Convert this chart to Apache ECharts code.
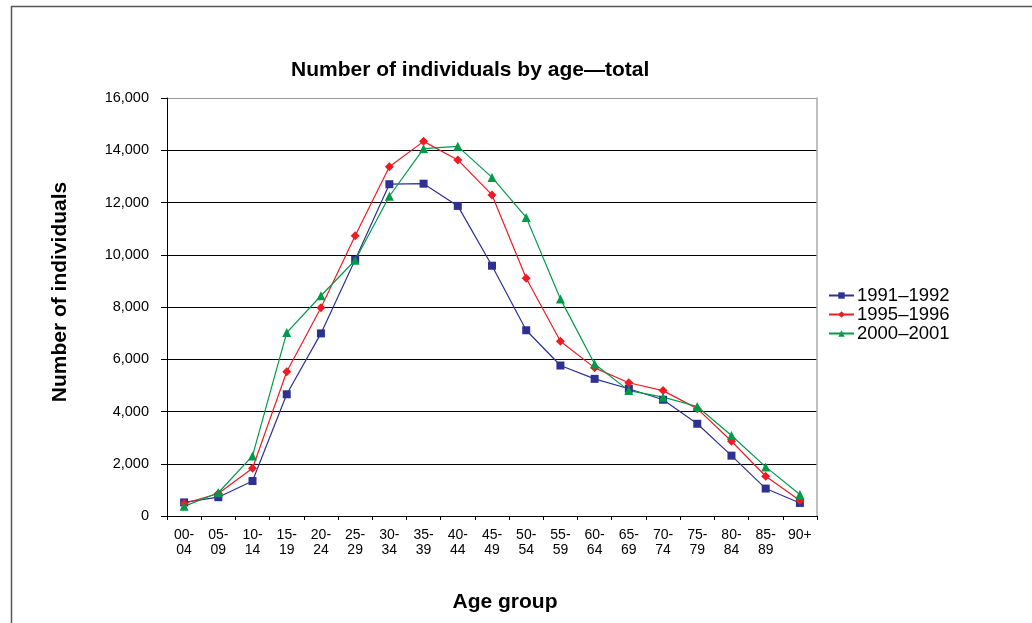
<!DOCTYPE html>
<html>
<head>
<meta charset="utf-8">
<script src="https://cdn.jsdelivr.net/npm/echarts@6/dist/echarts.min.js"></script>
<style>html,body{margin:0;padding:0;background:#fff}#c{width:1032px;height:623px}</style>
</head>
<body>
<div id="c"></div>
<script>
const categories = ['00-\n04','05-\n09','10-\n14','15-\n19','20-\n24','25-\n29','30-\n34','35-\n39','40-\n44','45-\n49','50-\n54','55-\n59','60-\n64','65-\n69','70-\n74','75-\n79','80-\n84','85-\n89','90+'];
const s1991 = [520, 720, 1340, 4660, 6990, 9810, 12700, 12720, 11870, 9580, 7110, 5760, 5250, 4870, 4450, 3530, 2310, 1050, 500];
const s1995 = [480, 860, 1830, 5520, 7970, 10730, 13370, 14340, 13630, 12290, 9100, 6690, 5670, 5100, 4800, 4110, 2860, 1520, 590];
const s2000 = [370, 890, 2300, 7020, 8430, 9790, 12240, 14060, 14150, 12960, 11430, 8310, 5820, 4800, 4550, 4190, 3080, 1880, 820];
const seriesNames = ['1991\u20131992', '1995\u20131996', '2000\u20132001'];
const yTicks = [0, 2000, 4000, 6000, 8000, 10000, 12000, 14000, 16000];
const xTitle = 'Age group';
const yTitle = 'Number of individuals';

const font = 'Liberation Sans, Arial, Helvetica, sans-serif';
const chart = echarts.init(document.getElementById('c'));
const mk = (name, data, color, symbol, size) => ({
  name, type: 'line', data, symbol, symbolSize: size,
  lineStyle: { color, width: 1.2 }, itemStyle: { color }, color,
  emphasis: { disabled: true }
});
const nameStyle = { fontFamily: font, fontSize: 21, fontWeight: 'bold', fill: '#000' };
chart.setOption({
  animation: false,
  textStyle: { fontFamily: font },
  graphic: [{
    type: 'rect', left: 9, top: 4, shape: { width: 1100, height: 700 },
    style: { fill: 'none', stroke: '#555', lineWidth: 1.5 }, silent: true
  }, {
    type: 'text', x: 60, y: 292, rotation: Math.PI / 2, silent: true,
    style: Object.assign({ text: yTitle, align: 'center', verticalAlign: 'middle' }, nameStyle)
  }, {
    type: 'text', x: 505, y: 602, silent: true,
    style: Object.assign({ text: xTitle, align: 'center', verticalAlign: 'middle' }, nameStyle)
  }],
  title: {
    text: 'Number of individuals by age\u2014total', left: 286, top: 55,
    textStyle: { fontFamily: font, fontSize: 21, fontWeight: 'bold', color: '#000' }
  },
  legend: {
    orient: 'vertical', left: 823, top: 281, itemWidth: 25, itemHeight: 8, itemGap: 0,
    textStyle: { fontFamily: font, fontSize: 18.5, lineHeight: 16, color: '#000', padding: [0,0,0,-2] },
    data: seriesNames
  },
  grid: { left: 167, right: 215, top: 98, bottom: 107, containLabel: false },
  xAxis: {
    type: 'category', data: categories, boundaryGap: true,
    axisLine: { lineStyle: { color: '#000', width: 1 } },
    axisTick: { show: true, length: 4, interval: 0, lineStyle: { color: '#000' } },
    axisLabel: { interval: 0, fontFamily: font, fontSize: 14, color: '#000', lineHeight: 15, margin: 12 }
  },
  yAxis: [{
    type: 'value', min: 0, max: 16000, interval: 2000,
    axisLine: { show: true, lineStyle: { color: '#000', width: 1 } },
    axisTick: { show: true, length: 6, lineStyle: { color: '#000' } },
    axisLabel: { fontFamily: font, fontSize: 14.5, color: '#000', margin: 18,
      formatter: v => v.toLocaleString('en-US') },
    splitLine: { show: true, lineStyle: { color: ['#000','#000','#000','#000','#000','#000','#000','#000','#999'], width: 1 } }
  }, {
    type: 'value', min: 0, max: 16000, interval: 2000, position: 'right',
    axisLine: { show: true, lineStyle: { color: '#aaa', width: 1.5 } },
    axisTick: { show: false }, axisLabel: { show: false }, splitLine: { show: false }
  }],
  series: [
    mk(seriesNames[0], s1991, '#2E3192', 'rect', 8),
    mk(seriesNames[1], s1995, '#ED1C24', 'diamond', 9),
    mk(seriesNames[2], s2000, '#009A49', 'triangle', 9)
  ]
});
</script>
</body>
</html>
